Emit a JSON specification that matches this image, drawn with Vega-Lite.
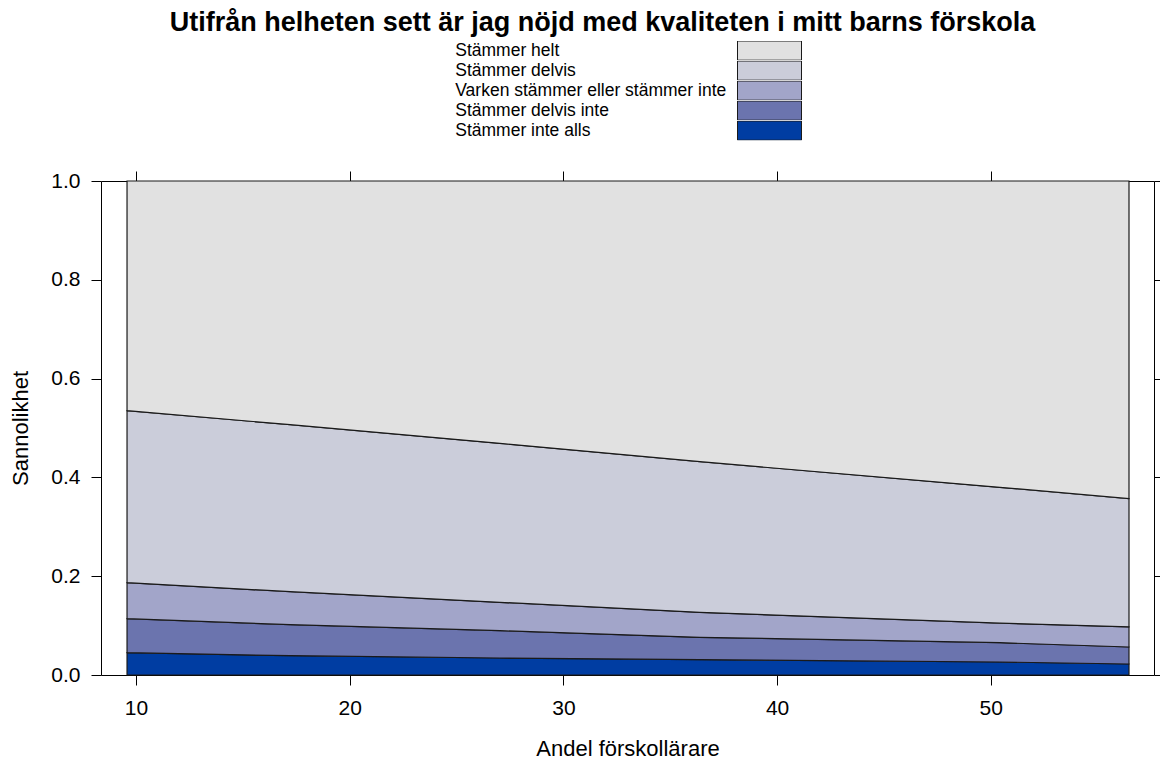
{
  "$schema": "https://vega.github.io/schema/vega-lite/v6.json",
  "autosize": {"type": "none"},
  "padding": {"left": 101, "top": 181, "right": 6, "bottom": 87},
  "width": 1053,
  "height": 494,
  "background": "white",
  "title": {
    "text": "Utifrån helheten sett är jag nöjd med kvaliteten i mitt barns förskola",
    "font": "Liberation Sans",
    "fontSize": 27,
    "fontWeight": "bold",
    "color": "black",
    "anchor": "middle",
    "frame": "group",
    "dx": -25,
    "offset": 4
  },
  "config": {
    "view": {"stroke": "black", "strokeWidth": 1},
    "axis": {
      "labelFont": "Liberation Sans",
      "titleFont": "Liberation Sans",
      "labelFontSize": 21,
      "titleFontSize": 22,
      "titleFontWeight": "normal",
      "labelColor": "black",
      "titleColor": "black",
      "tickColor": "black",
      "tickSize": 10,
      "domain": false,
      "grid": false
    }
  },
  "data": {
    "values": [
      {"andel": 9.58, "svar": "Stämmer inte alls", "rank": 1, "p": 0.0451},
      {"andel": 9.58, "svar": "Stämmer delvis inte", "rank": 2, "p": 0.0689},
      {"andel": 9.58, "svar": "Varken stämmer eller stämmer inte", "rank": 3, "p": 0.0728},
      {"andel": 9.58, "svar": "Stämmer delvis", "rank": 4, "p": 0.3482},
      {"andel": 9.58, "svar": "Stämmer helt", "rank": 5, "p": 0.465},
      {"andel": 17.21, "svar": "Stämmer inte alls", "rank": 1, "p": 0.0391},
      {"andel": 17.21, "svar": "Stämmer delvis inte", "rank": 2, "p": 0.0627},
      {"andel": 17.21, "svar": "Varken stämmer eller stämmer inte", "rank": 3, "p": 0.0668},
      {"andel": 17.21, "svar": "Stämmer delvis", "rank": 4, "p": 0.3381},
      {"andel": 17.21, "svar": "Stämmer helt", "rank": 5, "p": 0.4933},
      {"andel": 27.03, "svar": "Stämmer inte alls", "rank": 1, "p": 0.0344},
      {"andel": 27.03, "svar": "Stämmer delvis inte", "rank": 2, "p": 0.0553},
      {"andel": 27.03, "svar": "Varken stämmer eller stämmer inte", "rank": 3, "p": 0.0575},
      {"andel": 27.03, "svar": "Stämmer delvis", "rank": 4, "p": 0.3218},
      {"andel": 27.03, "svar": "Stämmer helt", "rank": 5, "p": 0.531},
      {"andel": 36.39, "svar": "Stämmer inte alls", "rank": 1, "p": 0.031},
      {"andel": 36.39, "svar": "Stämmer delvis inte", "rank": 2, "p": 0.0453},
      {"andel": 36.39, "svar": "Varken stämmer eller stämmer inte", "rank": 3, "p": 0.0506},
      {"andel": 36.39, "svar": "Stämmer delvis", "rank": 4, "p": 0.3049},
      {"andel": 36.39, "svar": "Stämmer helt", "rank": 5, "p": 0.5682},
      {"andel": 50.43, "svar": "Stämmer inte alls", "rank": 1, "p": 0.0263},
      {"andel": 50.43, "svar": "Stämmer delvis inte", "rank": 2, "p": 0.0391},
      {"andel": 50.43, "svar": "Varken stämmer eller stämmer inte", "rank": 3, "p": 0.0396},
      {"andel": 50.43, "svar": "Stämmer delvis", "rank": 4, "p": 0.275},
      {"andel": 50.43, "svar": "Stämmer helt", "rank": 5, "p": 0.62},
      {"andel": 56.47, "svar": "Stämmer inte alls", "rank": 1, "p": 0.0223},
      {"andel": 56.47, "svar": "Stämmer delvis inte", "rank": 2, "p": 0.0344},
      {"andel": 56.47, "svar": "Varken stämmer eller stämmer inte", "rank": 3, "p": 0.0408},
      {"andel": 56.47, "svar": "Stämmer delvis", "rank": 4, "p": 0.2595},
      {"andel": 56.47, "svar": "Stämmer helt", "rank": 5, "p": 0.643}
    ]
  },
  "layer": [
    {
      "mark": {"type": "area", "stroke": "#1a1a1a", "strokeWidth": 1.2, "opacity": 1, "interpolate": "linear"},
      "encoding": {
        "x": {
          "field": "andel", "type": "quantitative",
          "scale": {"domain": [8.362, 57.64], "nice": false, "zero": false},
          "axis": {"orient": "bottom", "values": [10, 20, 30, 40, 50], "title": "Andel förskollärare", "labelPadding": 12, "titlePadding": 20}
        },
        "y": {
          "field": "p", "type": "quantitative", "stack": "zero",
          "scale": {"domain": [0, 1], "nice": false, "zero": false},
          "axis": {"orient": "left", "values": [0, 0.2, 0.4, 0.6, 0.8, 1], "format": ".1f", "title": "Sannolikhet", "labelPadding": 11, "titlePadding": 18}
        },
        "color": {
          "field": "svar", "type": "nominal",
          "scale": {
            "domain": ["Stämmer helt", "Stämmer delvis", "Varken stämmer eller stämmer inte", "Stämmer delvis inte", "Stämmer inte alls"],
            "range": ["#E1E1E1", "#CBCDDA", "#A2A5C9", "#6B74AE", "#003DA2"]
          },
          "legend": {
            "orient": "none",
            "legendX": 636,
            "legendY": -140,
            "direction": "vertical",
            "title": null,
            "padding": 0,
            "symbolType": "M-6.4,-1.92H6.4V1.92H-6.4Z",
            "symbolSize": 100,
            "symbolOffset": 23.75,
            "symbolStrokeColor": "#1a1a1a",
            "symbolStrokeWidth": 1,
            "symbolOpacity": 1,
            "clipHeight": 19.2,
            "rowPadding": -0.8,
            "labelAlign": "left",
            "labelOffset": -323,
            "labelLimit": 500,
            "labelFont": "Liberation Sans",
            "labelFontSize": 17.5,
            "labelColor": "black",
            "encode": {
              "entries": {"update": {"width": {"value": 80}, "height": {"value": 19.2}}}
            }
          }
        },
        "order": {"field": "rank", "type": "quantitative"}
      }
    },
    {
      "mark": {"type": "point", "opacity": 0},
      "encoding": {
        "x": {
          "field": "andel", "type": "quantitative",
          "scale": {"domain": [8.362, 57.64], "nice": false, "zero": false},
          "axis": {"orient": "top", "values": [10, 20, 30, 40, 50], "labels": false, "title": null}
        },
        "y": {
          "field": "p", "type": "quantitative",
          "scale": {"domain": [0, 1], "nice": false, "zero": false},
          "axis": {"orient": "right", "values": [0, 0.2, 0.4, 0.6, 0.8, 1], "labels": false, "title": null}
        }
      }
    }
  ],
  "resolve": {"axis": {"x": "independent", "y": "independent"}}
}
